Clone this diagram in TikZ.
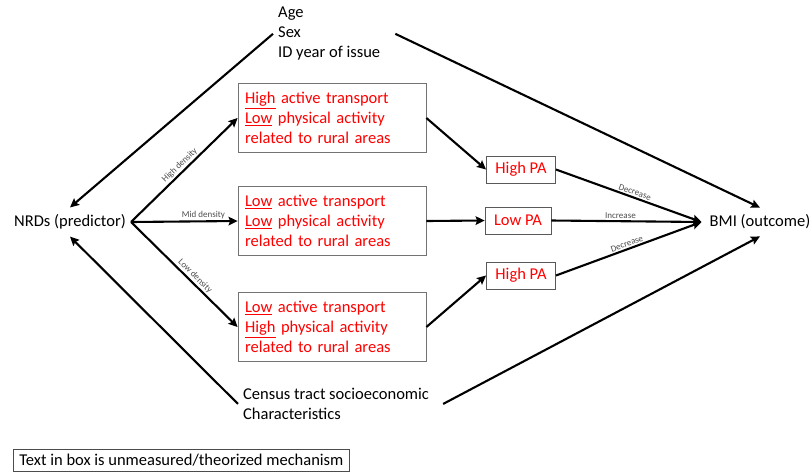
\documentclass[tikz,border=0pt]{standalone}
\usepackage{fontspec}
\setmainfont{Carlito}
\usetikzlibrary{arrows.meta,calc}
\begin{document}
\begin{tikzpicture}[x=1pt,y=-1pt,
  every node/.style={font=\fontsize{16.5}{20}\selectfont},
  arr/.style={line width=2.1pt,-{Stealth[length=9pt,width=8.5pt,inset=1.5pt]}},
  lab/.style={font=\fontsize{9}{10}\selectfont, text=black!70, sloped, inner sep=1.5pt},
  mbox/.style={draw=black!55, line width=0.8pt, text=red, align=left, text width=174pt,
    inner xsep=7pt, minimum height=69pt, minimum width=188pt},
  pabox/.style={draw=black!65, line width=0.8pt, text=red, inner xsep=9pt, minimum height=27pt},
  plain/.style={inner xsep=5pt, inner ysep=0pt, align=left}]
\useasboundingbox (0,0) rectangle (812,472);

% text nodes
\node[plain, anchor=north west] (age) at (273,7) {Age\\Sex\\ID year of issue};
\node[inner xsep=5pt, inner ysep=7pt] (nrd) at (70,222) {NRDs (predictor)};
\node[inner xsep=8pt, inner ysep=7pt] (bmi) at (760,222) {BMI (outcome)};
\node[plain, anchor=north west] (cen) at (238,388) {Census tract socioeconomic\\Characteristics};

% mechanism boxes
\node[mbox] (b1) at (332,118) {\underline{High} active transport\\\underline{Low} physical activity\\related to rural areas};
\node[mbox] (b2) at (332,221) {\underline{Low} active transport\\\underline{Low} physical activity\\related to rural areas};
\node[mbox] (b3) at (332,327) {\underline{Low} active transport\\\underline{High} physical activity\\related to rural areas};

% PA boxes
\node[pabox] (p1) at (521,169.5) {High PA};
\node[pabox] (p2) at (518,220.5) {Low PA};
\node[pabox] (p3) at (521,275.5) {High PA};

% legend
\node[draw=black!70, line width=0.8pt, anchor=west, inner xsep=6pt, minimum height=22pt] (leg) at (13,460)
  {Text in box is unmeasured/theorized mechanism};

% confounder arrows
\draw[arr] (age.west) -- (nrd.north);
\draw[arr] (cen.west) -- (nrd.south);
\draw[arr] ($(age.east)+(10,0)$) -- (bmi.north);
\draw[arr] ($(cen.east)+(9,0)$) -- (bmi.south);

% predictor to mechanisms
\draw[arr] (nrd.east) -- node[lab, above, pos=0.5] {High density} (b1.west);
\draw[arr] (nrd.east) -- node[lab, above, pos=0.68] {Mid density} (b2.west);
\draw[arr] (nrd.east) -- node[lab, above, pos=0.56] {Low density} (b3.west);

% mechanisms to PA
\draw[arr] (b1.east) -- (p1.west);
\draw[arr] (b2.east) -- (p2.west);
\draw[arr] (b3.east) -- (p3.west);

% PA to outcome
\draw[arr] (p1.east) -- node[lab, above, pos=0.53] {Decrease} (bmi.west);
\draw[arr] (p2.east) -- node[lab, above, pos=0.46] {Increase} (bmi.west);
\draw[arr] (p3.east) -- node[lab, above, pos=0.5] {Decrease} (bmi.west);
\end{tikzpicture}
\end{document}
